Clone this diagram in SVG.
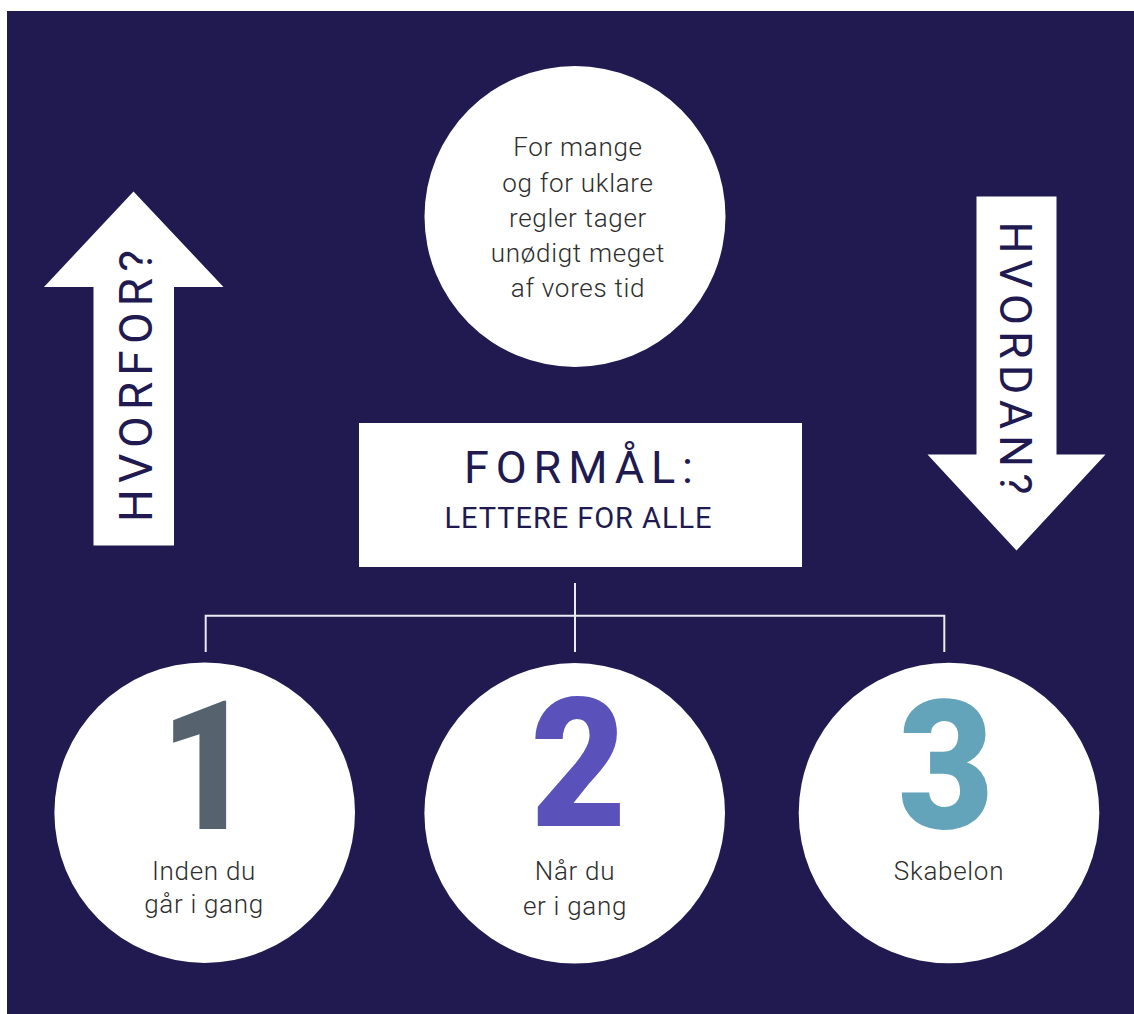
<svg xmlns="http://www.w3.org/2000/svg" width="1134" height="1014" viewBox="0 0 1134 1014">
  <style>
    .bg { fill: #211a50; }
    .white { fill: #ffffff; }
    .conn { stroke: #ecebf3; stroke-width: 2; fill: none; }
    .body { font-family: Roboto, "Liberation Sans", sans-serif; font-weight: 300; fill: #2e2e2e; font-size: 26px; text-anchor: middle; letter-spacing: 0.7px; }
    .navy { font-family: Roboto, "Liberation Sans", sans-serif; font-weight: 400; fill: #211a50; text-anchor: middle; }
    .num { font-family: Roboto, "Liberation Sans", sans-serif; font-weight: 900; font-size: 180px; text-anchor: middle; }
  </style>
  <rect class="bg" x="7" y="11" width="1127" height="1003"/>

  <g id="arrow-hvorfor">
    <polygon class="white" points="133.5,191.5 223.5,287 174,287 174,545.5 93.5,545.5 93.5,287 44,287"/>
    <text class="navy" font-size="46" transform="translate(152,386) rotate(-90)" x="0" y="0" textLength="272" lengthAdjust="spacing">HVORFOR?</text>
  </g>

  <g id="arrow-hvordan">
    <polygon class="white" points="976.5,196.5 1056.5,196.5 1056.5,454.5 1105.5,454.5 1016.5,550.5 927.5,454.5 976.5,454.5"/>
    <text class="navy" font-size="45" transform="translate(1000,358) rotate(90)" x="0" y="0" textLength="273" lengthAdjust="spacing">HVORDAN?</text>
  </g>

  <g id="problem">
    <circle class="white" cx="575" cy="216.5" r="150.5"/>
    <text class="body" x="578" y="156">For mange</text>
    <text class="body" x="578" y="191.5">og for uklare</text>
    <text class="body" x="578" y="226.5">regler tager</text>
    <text class="body" x="578" y="262">unødigt meget</text>
    <text class="body" x="578" y="296.5">af vores tid</text>
  </g>

  <g id="formaal">
    <rect class="white" x="359" y="423" width="443" height="144"/>
    <text class="navy" font-size="45" x="578.5" y="482.5" textLength="229" lengthAdjust="spacing">FORMÅL:</text>
    <text class="navy" font-size="29" x="578" y="527.5" textLength="267" lengthAdjust="spacing">LETTERE FOR ALLE</text>
  </g>

  <g id="connectors">
    <line class="conn" x1="575" y1="583" x2="575" y2="652"/>
    <polyline class="conn" points="205.7,652 205.7,615.7 944.3,615.7 944.3,652"/>
  </g>

  <g id="step1">
    <circle class="white" cx="204.7" cy="812.7" r="150.3"/>
    <text class="num" fill="#56636f" transform="translate(207,829) scale(0.9,1)">1</text>
    <text class="body" x="204" y="880">Inden du</text>
    <text class="body" x="204" y="913">går i gang</text>
  </g>

  <g id="step2">
    <circle class="white" cx="574.7" cy="813.3" r="150.3"/>
    <text class="num" fill="#5b51bb" transform="translate(578.5,826) scale(0.92,1)">2</text>
    <text class="body" x="575" y="880">Når du</text>
    <text class="body" x="575" y="915">er i gang</text>
  </g>

  <g id="step3">
    <circle class="white" cx="949" cy="813" r="150.3"/>
    <text class="num" fill="#63a4ba" transform="translate(946,828) scale(0.92,1)">3</text>
    <text class="body" x="949" y="880">Skabelon</text>
  </g>
</svg>
